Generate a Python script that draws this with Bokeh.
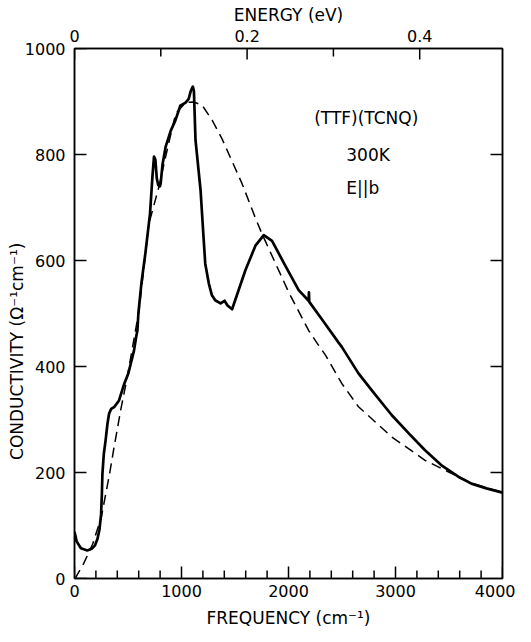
import math
from bokeh.plotting import figure
from bokeh.models import (LinearAxis, Range1d, FixedTicker, CustomJSTickFormatter, Label)
from bokeh.embed import file_html
from bokeh.resources import INLINE

# ---- data ----
freq_solid = [0, 20, 60, 120, 160, 190, 215, 233, 248, 256, 261, 274, 291, 308, 323, 343,
              373, 416, 466, 503, 556, 578, 588, 597, 627, 662, 706, 729, 743, 756, 769,
              783, 798, 805, 822, 852, 900, 942, 989, 1038, 1067, 1087, 1106, 1116, 1131,
              1178, 1204, 1222, 1255, 1283, 1315, 1365, 1402, 1430, 1473, 1527, 1598,
              1691, 1769, 1846, 1971, 2095, 2188, 2191, 2194, 2312, 2468, 2498, 2654,
              2790, 2966, 3133, 3276, 3427, 3587, 3710, 3850, 4000]
sigma_solid = [88, 70, 57, 53, 56, 62, 75, 92, 120, 160, 198, 235, 261, 292, 311, 320,
               324, 336, 368, 387, 430, 458, 468, 500, 560, 613, 689, 760, 796, 790, 755,
               742, 740, 745, 780, 815, 845, 864, 892, 898, 905, 920, 928, 920, 827,
               733, 650, 594, 557, 535, 525, 519, 524, 515, 508, 540, 582,
               628, 648, 637, 590, 544, 524, 540, 522, 489, 445, 437, 387,
               352, 308, 272, 242, 214, 192, 179, 170, 162]

freq_dash = [0, 12, 85, 170, 250, 330, 370, 432, 494, 603, 696, 789, 852, 945, 1038, 1116,
             1193, 1286, 1380, 1411, 1566, 1691, 1753, 2002, 2188, 2281, 2344, 2498, 2654,
             2966, 3276, 3587, 3710, 3850, 4000]
sigma_dash = [0, 2, 28, 65, 115, 200, 248, 318, 381, 506, 670, 739, 796, 877, 898, 899,
              893, 865, 829, 815, 745, 680, 650, 540, 468, 440, 422, 368, 324,
              267, 223, 192, 180, 171, 163]

x_ticks = [0, 1000, 2000, 3000, 4000]
x_minor = [f for f in range(0, 4001, 200) if f % 1000 != 0]
y_ticks = [0, 200, 400, 600, 800, 1000]
y_right_ticks = [200, 400, 600, 800]
e_ticks = [0, 0.2, 0.4]
e_minor = [0.1, 0.3]
CM_PER_EV = 8065.54

X_MAX, Y_MAX = 4000, 1000
FW, FH = 428, 530
FONT = "DejaVu Sans"

p = figure(frame_width=FW, frame_height=FH, x_range=Range1d(0, X_MAX), y_range=Range1d(0, Y_MAX),
           output_backend="svg", toolbar_location=None,
           min_border_left=74, min_border_right=13, min_border_top=48, min_border_bottom=54)
p.extra_x_ranges = {"energy": Range1d(0, X_MAX / CM_PER_EV)}
p.xgrid.visible = False
p.ygrid.visible = False
p.background_fill_color = "white"
p.border_fill_color = "white"
p.outline_line_color = "black"
p.outline_line_width = 1.5


def style_axis(ax, size="16px"):
    ax.axis_line_color = "black"
    ax.axis_line_width = 1.5
    ax.major_tick_in = 0
    ax.major_tick_out = 0
    ax.minor_tick_in = 0
    ax.minor_tick_out = 0
    ax.major_label_text_font = FONT
    ax.major_label_text_font_size = size
    ax.major_label_text_color = "black"
    ax.axis_label_text_font = FONT
    ax.axis_label_text_font_size = "17px"
    ax.axis_label_text_font_style = "normal"
    ax.axis_label_text_color = "black"


# bottom axis
xa = p.xaxis[0]
style_axis(xa)
xa.ticker = FixedTicker(ticks=x_ticks, minor_ticks=[])
xa.major_label_standoff = 6
xa.axis_label = "FREQUENCY (cm\u207b\u00b9)"
xa.axis_label_standoff = 8

# left axis
ya = p.yaxis[0]
style_axis(ya)
ya.ticker = FixedTicker(ticks=y_ticks, minor_ticks=[])
ya.major_label_standoff = 9
ya.axis_label = "CONDUCTIVITY (\u03a9\u207b\u00b9cm\u207b\u00b9)" + "\u00a0" * 14
ya.axis_label_standoff = -5

# right axis (no labels)
ra = LinearAxis()
style_axis(ra)
ra.ticker = FixedTicker(ticks=y_right_ticks, minor_ticks=[])
ra.formatter = CustomJSTickFormatter(code="return '';")
ra.major_label_standoff = 0
p.add_layout(ra, "right")

# top energy axis
ta = LinearAxis(x_range_name="energy")
style_axis(ta)
ta.ticker = FixedTicker(ticks=e_ticks, minor_ticks=[])
ta.formatter = CustomJSTickFormatter(code="return tick < 1e-9 ? '0' : tick.toFixed(1);")
ta.major_label_standoff = 7
ta.axis_label = "ENERGY (eV)"
ta.axis_label_standoff = 2
p.add_layout(ta, "above")

# ---- inward tick marks drawn as segments (lengths in pixels converted to data units) ----
px_x = X_MAX / FW   # data units per pixel, horizontal
px_y = Y_MAX / FH   # data units per pixel, vertical
TK = dict(line_color="black", line_width=1.5)
# bottom
p.segment(x0=x_ticks, y0=[0] * len(x_ticks), x1=x_ticks, y1=[12 * px_y] * len(x_ticks), **TK)
p.segment(x0=x_minor, y0=[0] * len(x_minor), x1=x_minor, y1=[8 * px_y] * len(x_minor), **TK)
# left
p.segment(x0=[0] * len(y_ticks), y0=y_ticks, x1=[12 * px_x] * len(y_ticks), y1=y_ticks, **TK)
# right
p.segment(x0=[X_MAX] * len(y_right_ticks), y0=y_right_ticks,
          x1=[X_MAX - 12 * px_x] * len(y_right_ticks), y1=y_right_ticks, **TK)
# top (energy)
e_major_x = [e * CM_PER_EV for e in e_ticks]
e_minor_x = [e * CM_PER_EV for e in e_minor]
p.segment(x0=e_major_x, y0=[Y_MAX] * len(e_major_x), x1=e_major_x,
          y1=[Y_MAX - 11 * px_y] * len(e_major_x), **TK)
p.segment(x0=e_minor_x, y0=[Y_MAX] * len(e_minor_x), x1=e_minor_x,
          y1=[Y_MAX - 8 * px_y] * len(e_minor_x), **TK)

# curves
p.line(freq_dash, sigma_dash, line_color="black", line_width=1.5, line_dash="10 6")
p.line(freq_solid, sigma_solid, line_color="black", line_width=2.7, line_join="round")

# annotations
for txt, xv, yv in [("(TTF)(TCNQ)", 2240, 868), ("300K", 2540, 800), ("E||b", 2540, 737)]:
    p.add_layout(Label(x=xv, y=yv, text=txt, text_font=FONT, text_font_size="17px",
                       text_color="black", text_baseline="middle", text_align="left"))

open("out.html", "w").write(file_html(p, INLINE))
